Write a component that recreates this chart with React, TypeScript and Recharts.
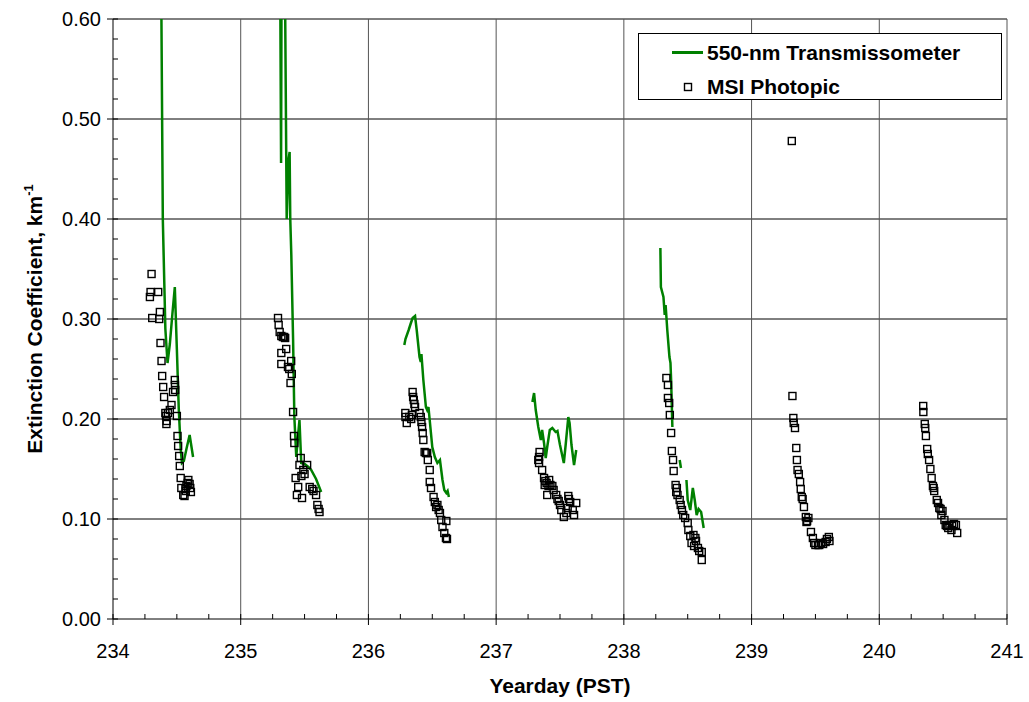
import { ComposedChart, Line, Scatter, XAxis, YAxis, ReferenceLine, Legend } from "recharts";

type Pt = { x: number; y: number };

const FONT = "'Liberation Sans', Arial, sans-serif";
const GREEN = "#008000";

// tick positions (majors get labels, the rest are minor ticks)
const xTicks = [234, 234.25, 234.5, 234.75, 235, 235.25, 235.5, 235.75, 236, 236.25, 236.5, 236.75, 237, 237.25, 237.5, 237.75,
  238, 238.25, 238.5, 238.75, 239, 239.25, 239.5, 239.75, 240, 240.25, 240.5, 240.75, 241];
const yTicks = [0, 0.02, 0.04, 0.06, 0.08, 0.1, 0.12, 0.14, 0.16, 0.18, 0.2, 0.22, 0.24, 0.26, 0.28, 0.3, 0.32, 0.34, 0.36, 0.38,
  0.4, 0.42, 0.44, 0.46, 0.48, 0.5, 0.52, 0.54, 0.56, 0.58, 0.6];
const xGrid = [235, 236, 237, 238, 239, 240, 241];
const yGrid = [0.1, 0.2, 0.3, 0.4, 0.5, 0.6];

// 550-nm transmissometer, one array per continuous trace
const tr234 = [[234.376, 0.66], [234.39, 0.40], [234.41, 0.29], [234.427, 0.256], [234.445, 0.275], [234.465, 0.305], [234.484, 0.332],
  [234.50, 0.27], [234.515, 0.21], [234.53, 0.17], [234.54, 0.156], [234.555, 0.158], [234.575, 0.17], [234.60, 0.184], [234.627, 0.162]];
const tr235 = [[235.305, 0.75], [235.316, 0.456], [235.322, 0.75], [235.34, 0.75], [235.36, 0.40], [235.375, 0.46], [235.383, 0.467],
  [235.388, 0.40], [235.396, 0.365], [235.41, 0.28], [235.42, 0.202], [235.435, 0.162], [235.45, 0.185], [235.46, 0.199], [235.474, 0.156],
  [235.50, 0.155], [235.53, 0.152], [235.552, 0.149], [235.59, 0.14], [235.63, 0.127]];
const tr236 = [[236.281, 0.274], [236.29, 0.28], [236.315, 0.289], [236.33, 0.295], [236.346, 0.301], [236.365, 0.303], [236.378, 0.289],
  [236.40, 0.262], [236.41, 0.257], [236.415, 0.265], [236.43, 0.239], [236.45, 0.212], [236.46, 0.209], [236.47, 0.212], [236.50, 0.172],
  [236.52, 0.162], [236.54, 0.156], [236.56, 0.159], [236.58, 0.139], [236.594, 0.129], [236.61, 0.126], [236.62, 0.128], [236.63, 0.122]];
const tr237 = [[237.284, 0.217], [237.297, 0.226], [237.31, 0.209], [237.33, 0.192], [237.35, 0.179], [237.36, 0.189], [237.375, 0.176],
  [237.388, 0.161], [237.40, 0.172], [237.42, 0.189], [237.44, 0.191], [237.466, 0.187], [237.48, 0.188], [237.50, 0.174], [237.53, 0.156],
  [237.545, 0.175], [237.565, 0.202], [237.575, 0.196], [237.59, 0.174], [237.61, 0.154], [237.627, 0.169]];
const tr238a = [[238.286, 0.371], [238.29, 0.332], [238.31, 0.322], [238.32, 0.304], [238.327, 0.314], [238.34, 0.289], [238.357, 0.262],
  [238.365, 0.256], [238.37, 0.239], [238.38, 0.192]];
const tr238b = [[238.437, 0.159], [238.447, 0.151]];
const tr238c = [[238.49, 0.139], [238.50, 0.119], [238.52, 0.109], [238.54, 0.131], [238.555, 0.119], [238.57, 0.104], [238.585, 0.11],
  [238.605, 0.107], [238.625, 0.091]];

// MSI photopic
const msi234 = [[234.302, 0.345], [234.294, 0.327], [234.289, 0.322], [234.354, 0.327], [234.367, 0.307], [234.307, 0.301], [234.362, 0.300],
  [234.372, 0.276], [234.38, 0.258], [234.385, 0.243], [234.393, 0.232], [234.40, 0.222], [234.41, 0.206], [234.415, 0.203], [234.42, 0.198],
  [234.418, 0.195], [234.43, 0.206], [234.445, 0.209], [234.458, 0.214], [234.47, 0.227], [234.484, 0.239], [234.485, 0.234], [234.487, 0.229],
  [234.50, 0.203], [234.505, 0.183], [234.51, 0.173], [234.518, 0.163], [234.523, 0.153], [234.53, 0.141], [234.535, 0.131], [234.55, 0.124],
  [234.56, 0.123], [234.567, 0.130], [234.57, 0.128], [234.575, 0.133], [234.585, 0.136], [234.59, 0.139], [234.60, 0.135], [234.605, 0.131],
  [234.61, 0.127]];
const msi235 = [[235.292, 0.301], [235.297, 0.294], [235.305, 0.287], [235.318, 0.283], [235.33, 0.282], [235.34, 0.282], [235.348, 0.281],
  [235.356, 0.270], [235.318, 0.266], [235.318, 0.255], [235.395, 0.258], [235.37, 0.252], [235.38, 0.250], [235.40, 0.245], [235.39, 0.236],
  [235.41, 0.207], [235.417, 0.183], [235.42, 0.176], [235.47, 0.161], [235.52, 0.154], [235.46, 0.154], [235.49, 0.149], [235.43, 0.141],
  [235.475, 0.143], [235.50, 0.145], [235.45, 0.132], [235.44, 0.124], [235.48, 0.121], [235.54, 0.132], [235.56, 0.130], [235.57, 0.128],
  [235.59, 0.124], [235.60, 0.114], [235.617, 0.107], [235.61, 0.110]];
const msi236 = [[236.346, 0.227], [236.35, 0.222], [236.355, 0.219], [236.36, 0.215], [236.365, 0.212], [236.289, 0.206], [236.29, 0.202],
  [236.30, 0.196], [236.32, 0.202], [236.335, 0.200], [236.34, 0.204], [236.40, 0.206], [236.41, 0.202], [236.415, 0.197], [236.42, 0.192],
  [236.425, 0.186], [236.43, 0.179], [236.44, 0.167], [236.45, 0.166], [236.46, 0.166], [236.465, 0.159], [236.48, 0.149], [236.48, 0.137],
  [236.49, 0.131], [236.51, 0.122], [236.52, 0.117], [236.53, 0.112], [236.54, 0.114], [236.55, 0.109], [236.56, 0.106], [236.57, 0.099],
  [236.61, 0.098], [236.58, 0.092], [236.594, 0.086], [236.607, 0.081], [236.615, 0.080]];
const msi237 = [[237.34, 0.167], [237.336, 0.162], [237.33, 0.159], [237.336, 0.156], [237.36, 0.149], [237.375, 0.141], [237.385, 0.138],
  [237.395, 0.136], [237.415, 0.139], [237.38, 0.134], [237.41, 0.133], [237.425, 0.134], [237.44, 0.133], [237.45, 0.129], [237.40, 0.124],
  [237.47, 0.124], [237.48, 0.120], [237.49, 0.118], [237.50, 0.114], [237.51, 0.109], [237.53, 0.102], [237.565, 0.123], [237.57, 0.120],
  [237.58, 0.117], [237.56, 0.111], [237.60, 0.109], [237.61, 0.104], [237.627, 0.116], [237.55, 0.106]];
const msi238 = [[238.333, 0.241], [238.345, 0.234], [238.345, 0.221], [238.355, 0.216], [238.36, 0.204], [238.37, 0.186], [238.376, 0.168],
  [238.385, 0.159], [238.39, 0.148], [238.405, 0.134], [238.415, 0.131], [238.41, 0.127], [238.42, 0.124], [238.437, 0.119], [238.445, 0.114],
  [238.455, 0.109], [238.465, 0.104], [238.48, 0.101], [238.50, 0.096], [238.505, 0.089], [238.52, 0.083], [238.545, 0.084], [238.56, 0.081],
  [238.53, 0.076], [238.55, 0.073], [238.565, 0.078], [238.58, 0.071], [238.59, 0.068], [238.61, 0.067], [238.61, 0.059]];
const msi239 = [[239.315, 0.478], [239.32, 0.223], [239.327, 0.201], [239.33, 0.196], [239.34, 0.191], [239.35, 0.171], [239.355, 0.159],
  [239.36, 0.149], [239.37, 0.145], [239.38, 0.137], [239.385, 0.130], [239.393, 0.122], [239.40, 0.120], [239.41, 0.112], [239.425, 0.102],
  [239.435, 0.098], [239.43, 0.097], [239.445, 0.101], [239.465, 0.087], [239.48, 0.081], [239.49, 0.076], [239.50, 0.074], [239.52, 0.074],
  [239.53, 0.074], [239.545, 0.076], [239.56, 0.075], [239.58, 0.077], [239.59, 0.080], [239.605, 0.082], [239.61, 0.078]];
const msi240 = [[240.344, 0.213], [240.345, 0.207], [240.356, 0.195], [240.36, 0.191], [240.365, 0.183], [240.375, 0.170], [240.38, 0.165],
  [240.39, 0.159], [240.40, 0.150], [240.41, 0.141], [240.42, 0.133], [240.426, 0.131], [240.43, 0.128], [240.45, 0.119], [240.46, 0.116],
  [240.47, 0.111], [240.48, 0.110], [240.495, 0.108], [240.486, 0.104], [240.51, 0.099], [240.52, 0.094], [240.53, 0.093], [240.55, 0.094],
  [240.57, 0.093], [240.585, 0.095], [240.60, 0.094], [240.61, 0.086], [240.54, 0.091], [240.565, 0.089]];

const toPts = (a: number[][]): Pt[] => a.map(([x, y]) => ({ x, y }));
const transSegments = [tr234, tr235, tr236, tr237, tr238a, tr238b, tr238c].map(toPts);
const msiPoints = toPts([...msi234, ...msi235, ...msi236, ...msi237, ...msi238, ...msi239, ...msi240]);

// tickSize 6 + tickMargin 4 => axis line sits 10px from the tick label anchor
const YTick = (p: any) => {
  const v = p.payload.value;
  const major = Math.round(v * 100) % 10 === 0;
  const ax = p.x + 10;
  return (
    <g>
      <line x1={major ? ax - 6 : ax} x2={ax + 5} y1={p.y} y2={p.y} stroke="#000" />
      {major && (
        <text x={ax - 12} y={p.y} dy={7} textAnchor="end" fontSize={20} fontFamily={FONT} fill="#000">
          {v.toFixed(2)}
        </text>
      )}
    </g>
  );
};

const XTick = (p: any) => {
  const v = p.payload.value;
  const major = Number.isInteger(v);
  const ay = p.y - 10;
  return (
    <g>
      <line x1={p.x} x2={p.x} y1={ay - 5} y2={major ? ay + 6 : ay} stroke="#000" />
      {major && (
        <text x={p.x} y={ay + 39} textAnchor="middle" fontSize={20} fontFamily={FONT} fill="#000">
          {v}
        </text>
      )}
    </g>
  );
};

const YTitle = (p: any) => {
  const vb = p.viewBox;
  const cx = vb.x + 35;
  const cy = vb.y + vb.height / 2;
  return (
    <text x={cx} y={cy} transform={`rotate(-90 ${cx} ${cy})`} textAnchor="middle" dy={7}
      fontSize={21} fontWeight="bold" fontFamily={FONT} fill="#000">
      Extinction Coefficient, km<tspan dy={-9} fontSize={13}>-1</tspan>
    </text>
  );
};

const XTitle = (p: any) => {
  const vb = p.viewBox;
  return (
    <text x={vb.x + vb.width / 2} y={vb.y + 74} textAnchor="middle" fontSize={21} fontWeight="bold" fontFamily={FONT} fill="#000">
      Yearday (PST)
    </text>
  );
};

const Square = (p: any) => (
  <rect x={p.cx - 3.5} y={p.cy - 3.5} width={7} height={7} fill="none" stroke="#000" strokeWidth={1.4} />
);

const LegendBox = () => (
  <div style={{ width: 364, height: 67, boxSizing: "border-box", border: "1px solid #000", background: "#fff",
    position: "relative", fontFamily: FONT, fontWeight: "bold", fontSize: 21, color: "#000" }}>
    <div style={{ position: "absolute", left: 33, top: 17, width: 31, height: 3, background: GREEN }} />
    <div style={{ position: "absolute", left: 68, top: 6, lineHeight: "26px" }}>550-nm Transmissometer</div>
    <svg style={{ position: "absolute", left: 44, top: 48 }} width={10} height={10}>
      <rect x={1.5} y={1.5} width={7} height={7} fill="none" stroke="#000" strokeWidth={1.4} />
    </svg>
    <div style={{ position: "absolute", left: 68, top: 40, lineHeight: "26px" }}>MSI Photopic</div>
  </div>
);

export default function App() {
  return (
    <div style={{ position: "absolute", left: 0, top: 0, background: "#fff" }}>
      <ComposedChart width={1029} height={702} margin={{ top: 19, right: 22, bottom: 0, left: 0 }}>
        <XAxis type="number" dataKey="x" domain={[234, 241]} ticks={xTicks} interval={0} height={83}
          tickSize={6} tickMargin={4} tickLine={false} tick={XTick} axisLine={{ stroke: "#000" }} label={XTitle} />
        <YAxis type="number" dataKey="y" domain={[0, 0.6]} ticks={yTicks} interval={0} width={113} allowDataOverflow
          tickSize={6} tickMargin={4} tickLine={false} tick={YTick} axisLine={{ stroke: "#000" }} label={YTitle} />
        {yGrid.map(v => <ReferenceLine key={"h" + v} y={v} stroke="#000" strokeWidth={1} />)}
        {xGrid.map(v => <ReferenceLine key={"v" + v} x={v} stroke="#555" strokeWidth={1} />)}
        {transSegments.map((seg, i) => (
          <Line key={i} data={seg} dataKey="y" type="linear" stroke={GREEN} strokeWidth={2.5} dot={false}
            isAnimationActive={false} legendType="none" />
        ))}
        <Scatter data={msiPoints} dataKey="y" shape={Square} isAnimationActive={false} />
        <Legend content={LegendBox} layout="vertical" align="center" verticalAlign="middle"
          wrapperStyle={{ left: 638, top: 33, width: 364, height: 67 }} />
      </ComposedChart>
    </div>
  );
}
